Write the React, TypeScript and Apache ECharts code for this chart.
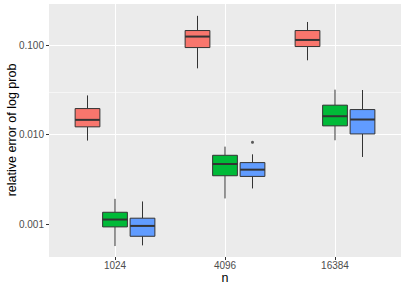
import React, { useEffect, useRef } from "react";
import * as echarts from "echarts";

const categories = ["1024", "4096", "16384"];
const groupNames = ["A", "B", "C"];
const groupColors = ["#F8766D", "#00BA38", "#619CFF"];
const groupOffsets = [-0.25, 0, 0.25];

// per category: [lower whisker, Q1, median, Q3, upper whisker]
const redStats = [
  [0.0086, 0.01225, 0.01466, 0.0196, 0.0275],
  [0.0552, 0.0942, 0.125, 0.146, 0.213],
  [0.0679, 0.0967, 0.1146, 0.146, 0.182],
];
const greenStats = [
  [0.00057, 0.000933, 0.001127, 0.00136, 0.00192],
  [0.00194, 0.00348, 0.00471, 0.00589, 0.00736],
  [0.00867, 0.01256, 0.0161, 0.0214, 0.0319],
];
const blueStats = [
  [0.00058, 0.000733, 0.000957, 0.001167, 0.001795],
  [0.00251, 0.00342, 0.00407, 0.00488, 0.00604],
  [0.00564, 0.0102, 0.01479, 0.0191, 0.0316],
];
// [category index, group index, value]
const outliers = [[1, 2, 0.00822]];

const xTicks = [0, 1, 2];
const yTicks = [0.001, 0.01, 0.1];
const yMinorTicks = [0.00316, 0.0316];
const yMin = 0.00043;
const yMax = 0.289;
const xTitle = "n";
const yTitle = "relative error of log prob";

const BOX_WIDTH = 0.225;
const FONT = "Liberation Sans, Arial, sans-serif";

export default function App() {
  const ref = useRef<HTMLDivElement>(null);
  useEffect(() => {
    if (!ref.current) return;
    const chart = echarts.init(ref.current, null, { renderer: "svg" });
    const allStats = [redStats, greenStats, blueStats];

    const boxSeries = allStats.map((stats, g) => ({
      type: "custom",
      name: groupNames[g],
      z: 10,
      encode: { x: 0, y: [1, 2, 3, 4, 5] },
      data: stats.map((s, i) => [i, ...s]),
      renderItem: (params: any, api: any) => {
        const cx = api.value(0) + groupOffsets[g];
        const lo = api.coord([cx, api.value(1)]);
        const q1 = api.coord([cx, api.value(2)]);
        const med = api.coord([cx, api.value(3)]);
        const q3 = api.coord([cx, api.value(4)]);
        const hi = api.coord([cx, api.value(5)]);
        const left = api.coord([cx - BOX_WIDTH / 2, api.value(3)])[0];
        const right = api.coord([cx + BOX_WIDTH / 2, api.value(3)])[0];
        const x = lo[0];
        const stroke = "#333333";
        return {
          type: "group",
          children: [
            { type: "line", shape: { x1: x, y1: hi[1], x2: x, y2: q3[1] }, style: { stroke, lineWidth: 1 } },
            { type: "line", shape: { x1: x, y1: q1[1], x2: x, y2: lo[1] }, style: { stroke, lineWidth: 1 } },
            {
              type: "rect",
              shape: { x: left, y: q3[1], width: right - left, height: q1[1] - q3[1] },
              style: { fill: groupColors[g], stroke, lineWidth: 1 },
            },
            { type: "line", shape: { x1: left, y1: med[1], x2: right, y2: med[1] }, style: { stroke, lineWidth: 2 } },
          ],
        };
      },
    }));

    const gridLine = (width: number, data: any[]) => ({
      type: "scatter",
      data: [],
      silent: true,
      z: 1,
      markLine: {
        silent: true,
        symbol: "none",
        z: 1,
        label: { show: false },
        emphasis: { disabled: true },
        lineStyle: { color: "#FFFFFF", width, type: "solid" },
        data,
      },
    });

    const option: any = {
      animation: false,
      textStyle: { fontFamily: FONT },
      grid: {
        left: 49,
        right: 4,
        top: 4,
        bottom: 32,
        containLabel: false,
        outerBoundsMode: "none",
        show: true,
        backgroundColor: "#EBEBEB",
        borderWidth: 0,
        borderColor: "transparent",
      },
      graphic: [
        {
          type: "text",
          x: 12,
          y: 130,
          rotation: Math.PI / 2,
          style: {
            text: yTitle,
            fill: "#000000",
            fontSize: 12.5,
            fontFamily: FONT,
            align: "center",
            verticalAlign: "middle",
          },
        },
        {
          type: "text",
          x: 225,
          y: 278,
          style: {
            text: xTitle,
            fill: "#000000",
            fontSize: 12.5,
            fontFamily: FONT,
            align: "center",
            verticalAlign: "middle",
          },
        },
      ],
      xAxis: {
        type: "value",
        min: -0.6,
        max: 2.6,
        axisLine: { show: false, onZero: false },
        axisTick: { show: true, length: 3, customValues: xTicks, lineStyle: { color: "#333333", width: 1 } },
        axisLabel: {
          customValues: xTicks,
          margin: 3,
          color: "#4D4D4D",
          fontSize: 10,
          fontFamily: FONT,
          formatter: (v: number) => categories[Math.round(v)] ?? "",
        },
        splitLine: { show: false },
      },
      yAxis: {
        type: "log",
        logBase: 10,
        min: yMin,
        max: yMax,
        axisLine: { show: false, onZero: false },
        axisTick: { show: true, length: 3, customValues: yTicks, lineStyle: { color: "#333333", width: 1 } },
        axisLabel: {
          customValues: yTicks,
          margin: 5,
          color: "#4D4D4D",
          fontSize: 10,
          fontFamily: FONT,
          formatter: (v: number) => v.toFixed(3),
        },
        splitLine: { show: false },
      },
      series: [
        gridLine(0.55, yMinorTicks.map((v) => ({ yAxis: v }))),
        gridLine(1.1, [...yTicks.map((v) => ({ yAxis: v })), ...xTicks.map((v) => ({ xAxis: v }))]),
        ...boxSeries,
        {
          type: "scatter",
          z: 11,
          symbolSize: 3,
          silent: true,
          itemStyle: { color: "#333333" },
          data: outliers.map((o) => [o[0] + groupOffsets[o[1]], o[2]]),
        },
      ],
    };
    chart.setOption(option);
    return () => chart.dispose();
  }, []);
  return <div ref={ref} style={{ position: "absolute", left: 0, top: 0, width: 405, height: 289 }} />;
}
